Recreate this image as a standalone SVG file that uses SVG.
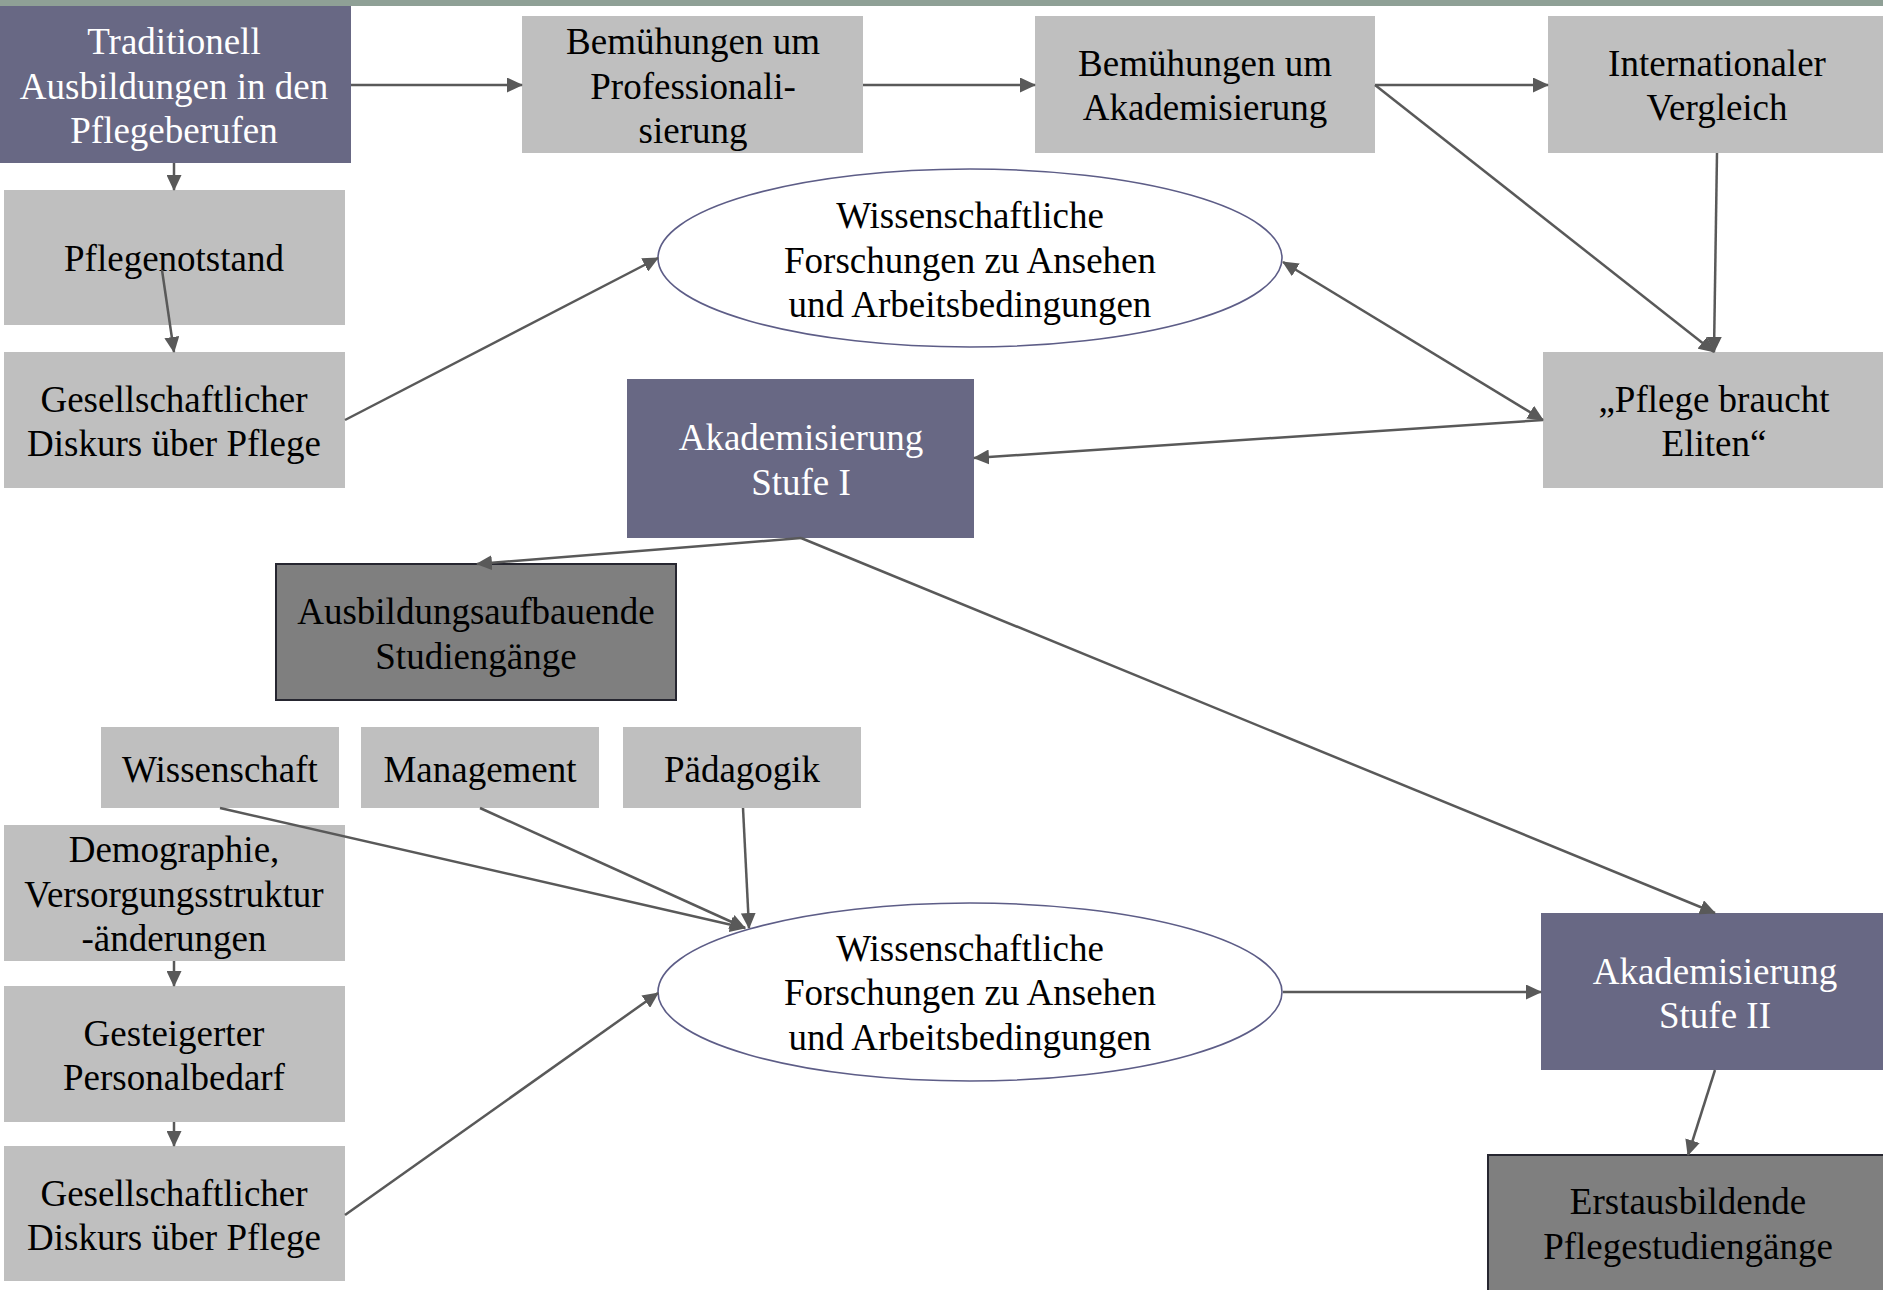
<svg xmlns="http://www.w3.org/2000/svg" width="1883" height="1290" viewBox="0 0 1883 1290">
<style>
text{font-family:"Liberation Serif","Times New Roman",serif;font-size:37px;text-anchor:middle;fill:#000}
.p rect{fill:#686884}
.p text{fill:#fff}
.g rect{fill:#bfbfbf}
.d rect{fill:#7f7f7f;stroke:#262630;stroke-width:2}
.e ellipse{fill:#fff;stroke:#5d5d87;stroke-width:1.6}
.c line{stroke:#595959;stroke-width:2.5;marker-end:url(#ah)}
</style>
<defs>
<marker id="ah" markerUnits="userSpaceOnUse" markerWidth="16" markerHeight="15" refX="15" refY="7.5" orient="auto-start-reverse">
<path d="M0,0 L16,7.5 L0,15 z" fill="#595959"/>
</marker>
</defs>
<rect x="0" y="0" width="1883" height="6" fill="#8fa096"/>

<g id="n1" class="p"><rect x="0" y="6" width="351" height="157"/>
<text x="174" y="54">Traditionell</text><text x="174" y="99">Ausbildungen in den</text><text x="174" y="143">Pflegeberufen</text></g>
<g id="n2" class="g"><rect x="522" y="16" width="341" height="137"/>
<text x="693" y="54">Bemühungen um</text><text x="693" y="99">Professionali-</text><text x="693" y="143">sierung</text></g>
<g id="n3" class="g"><rect x="1035" y="16" width="340" height="137"/>
<text x="1205" y="76">Bemühungen um</text><text x="1205" y="120">Akademisierung</text></g>
<g id="n4" class="g"><rect x="1548" y="16" width="335" height="137"/>
<text x="1717" y="76">Internationaler</text><text x="1717" y="120">Vergleich</text></g>
<g id="n5" class="g"><rect x="4" y="190" width="341" height="135"/>
<text x="174" y="271">Pflegenotstand</text></g>
<g id="n6" class="g"><rect x="4" y="352" width="341" height="136"/>
<text x="174" y="412">Gesellschaftlicher</text><text x="174" y="456">Diskurs über Pflege</text></g>
<g id="e1" class="e"><ellipse cx="970" cy="258" rx="312" ry="89"/>
<text x="970" y="228">Wissenschaftliche</text><text x="970" y="273">Forschungen zu Ansehen</text><text x="970" y="317">und Arbeitsbedingungen</text></g>
<g id="n7" class="g"><rect x="1543" y="352" width="340" height="136"/>
<text x="1714" y="412">„Pflege braucht</text><text x="1714" y="456">Eliten“</text></g>
<g id="n8" class="p"><rect x="627" y="379" width="347" height="159"/>
<text x="801" y="450">Akademisierung</text><text x="801" y="495">Stufe I</text></g>
<g id="n9" class="d"><rect x="276" y="564" width="400" height="136"/>
<text x="476" y="624">Ausbildungsaufbauende</text><text x="476" y="669">Studiengänge</text></g>
<g id="n10" class="g"><rect x="101" y="727" width="238" height="81"/>
<text x="220" y="782">Wissenschaft</text></g>
<g id="n11" class="g"><rect x="361" y="727" width="238" height="81"/>
<text x="480" y="782">Management</text></g>
<g id="n12" class="g"><rect x="623" y="727" width="238" height="81"/>
<text x="742" y="782">Pädagogik</text></g>
<g id="n13" class="g"><rect x="4" y="825" width="341" height="136"/>
<text x="174" y="862">Demographie,</text><text x="174" y="907">Versorgungsstruktur</text><text x="174" y="951">-änderungen</text></g>
<g id="n14" class="g"><rect x="4" y="986" width="341" height="136"/>
<text x="174" y="1046">Gesteigerter</text><text x="174" y="1090">Personalbedarf</text></g>
<g id="n15" class="g"><rect x="4" y="1146" width="341" height="135"/>
<text x="174" y="1206">Gesellschaftlicher</text><text x="174" y="1250">Diskurs über Pflege</text></g>
<g id="e2" class="e"><ellipse cx="970" cy="992" rx="312" ry="89"/>
<text x="970" y="961">Wissenschaftliche</text><text x="970" y="1005">Forschungen zu Ansehen</text><text x="970" y="1050">und Arbeitsbedingungen</text></g>
<g id="n16" class="p"><rect x="1541" y="913" width="342" height="157"/>
<text x="1715" y="984">Akademisierung</text><text x="1715" y="1028">Stufe II</text></g>
<g id="n17" class="d"><rect x="1488" y="1155" width="400" height="140"/>
<text x="1688" y="1214">Erstausbildende</text><text x="1688" y="1259">Pflegestudiengänge</text></g>

<g id="connectors" class="c">
<line x1="351" y1="85" x2="522" y2="85"/>
<line x1="863" y1="85" x2="1035" y2="85"/>
<line x1="1375" y1="85" x2="1548" y2="85"/>
<line x1="1375" y1="85" x2="1714" y2="352"/>
<line x1="1717" y1="153" x2="1714" y2="352"/>
<line x1="174" y1="163" x2="174" y2="190"/>
<line x1="162" y1="270" x2="174" y2="352"/>
<line x1="345" y1="420" x2="658" y2="258"/>
<line x1="1543" y1="420" x2="1283" y2="262" style="marker-start:url(#ah)"/>
<line x1="1543" y1="420" x2="974" y2="458"/>
<line x1="801" y1="538" x2="477" y2="564"/>
<line x1="801" y1="538" x2="1715" y2="913"/>
<line x1="220" y1="808" x2="745" y2="928"/>
<line x1="480" y1="808" x2="745" y2="928"/>
<line x1="743" y1="808" x2="749" y2="928"/>
<line x1="174" y1="961" x2="174" y2="986"/>
<line x1="174" y1="1122" x2="174" y2="1146"/>
<line x1="345" y1="1215" x2="658" y2="993"/>
<line x1="1283" y1="992" x2="1541" y2="992"/>
<line x1="1715" y1="1070" x2="1688" y2="1155"/>
</g>
</svg>
